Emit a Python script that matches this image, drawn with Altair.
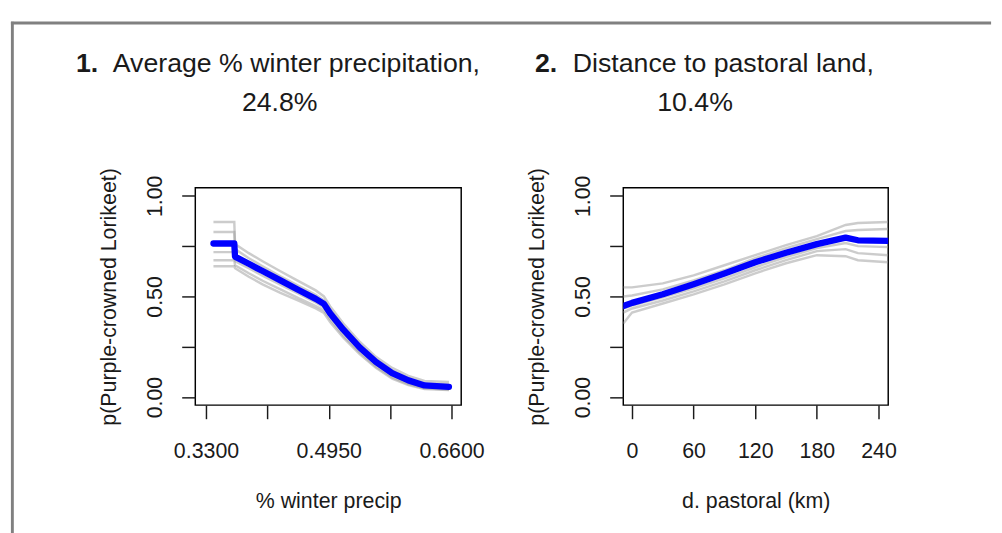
import altair as alt
import pandas as pd

FONT = "Liberation Sans"
INK = "#1a1a1a"

# ---------------- Panel 1: % winter precipitation ----------------
precip_num = "1."
precip_title = "Average % winter precipitation,"
precip_pct = "24.8%"
precip_xlabel = "% winter precip"
precip_x = [0.340, 0.368, 0.369, 0.3875, 0.406, 0.430, 0.455, 0.4775, 0.4885,
            0.497, 0.5146, 0.5365, 0.5583, 0.5802, 0.602, 0.6237, 0.6565]
precip_mean = [0.763, 0.763, 0.698, 0.662, 0.626, 0.580, 0.531, 0.488, 0.463,
               0.415, 0.335, 0.247, 0.175, 0.119, 0.083, 0.058, 0.051]
precip_reps = [
    [0.870, 0.870, 0.760, 0.715, 0.675, 0.625, 0.575, 0.530, 0.500, 0.450, 0.365, 0.275, 0.200, 0.145, 0.105, 0.080, 0.075],
    [0.820, 0.820, 0.735, 0.690, 0.650, 0.600, 0.552, 0.508, 0.480, 0.432, 0.350, 0.260, 0.187, 0.131, 0.093, 0.068, 0.063],
    [0.720, 0.720, 0.675, 0.640, 0.603, 0.558, 0.512, 0.470, 0.445, 0.400, 0.320, 0.234, 0.163, 0.108, 0.073, 0.050, 0.043],
    [0.680, 0.680, 0.655, 0.615, 0.578, 0.535, 0.490, 0.452, 0.430, 0.385, 0.305, 0.222, 0.152, 0.098, 0.065, 0.044, 0.038],
    [0.650, 0.650, 0.640, 0.598, 0.560, 0.518, 0.478, 0.440, 0.418, 0.372, 0.295, 0.213, 0.145, 0.092, 0.060, 0.040, 0.035],
]
precip_ticks = [0.33, 0.4125, 0.495, 0.5775, 0.66]
precip_tick_labels = ["0.3300", "", "0.4950", "", "0.6600"]
precip_domain = [0.3156, 0.673]

# ---------------- Panel 2: distance to pastoral land ----------------
past_num = "2."
past_title = "Distance to pastoral land,"
past_pct = "10.4%"
past_xlabel = "d. pastoral (km)"
past_x = [-8.5, 0, 30, 60, 90, 120, 150, 180, 208, 220, 249.5]
past_mean = [0.452, 0.468, 0.511, 0.561, 0.614, 0.670, 0.717, 0.760, 0.792, 0.779, 0.776]
past_reps = [
    [0.545, 0.545, 0.565, 0.605, 0.655, 0.705, 0.755, 0.800, 0.855, 0.865, 0.870],
    [0.500, 0.505, 0.535, 0.580, 0.630, 0.690, 0.740, 0.785, 0.825, 0.830, 0.835],
    [0.440, 0.455, 0.495, 0.540, 0.590, 0.645, 0.695, 0.740, 0.765, 0.750, 0.745],
    [0.420, 0.440, 0.480, 0.525, 0.575, 0.630, 0.680, 0.725, 0.735, 0.715, 0.705],
    [0.365, 0.420, 0.465, 0.510, 0.560, 0.615, 0.665, 0.705, 0.700, 0.680, 0.670],
]
past_ticks = [0, 60, 120, 180, 240]
past_tick_labels = ["0", "60", "120", "180", "240"]
past_domain = [-8.5, 249.5]

# ---------------- shared y ----------------
y_title = "p(Purple-crowned Lorikeet)"
y_ticks = [0, 0.25, 0.5, 0.75, 1.0]
y_tick_labels = ["0.00", "", "0.50", "", "1.00"]
y_domain = [-0.04, 1.04]

H = 224


def label_expr(ticks, labels):
    expr = "''"
    for t, l in reversed(list(zip(ticks, labels))):
        expr = f"(datum.value == {t} ? '{l}' : {expr})"
    return expr


one = pd.DataFrame({"a": [0]})


def text_mark(txt, x, y, bold=False, align="left"):
    return alt.Chart(one).mark_text(
        font=FONT, fontSize=27.5, fontWeight="bold" if bold else "normal",
        align=align, baseline="alphabetic", color=INK
    ).encode(x=alt.value(x), y=alt.value(y), text=alt.value(txt))


def panel(xs, mean, reps, domain, ticks, labels, xlabel, w,
          num, title, pct, num_x, title_x, pct_x, frame=False):
    grey_rows = [{"x": x, "y": y, "rep": i, "o": j}
                 for i, r in enumerate(reps) for j, (x, y) in enumerate(zip(xs, r))]
    mean_rows = [{"x": x, "y": y, "o": j} for j, (x, y) in enumerate(zip(xs, mean))]

    xenc = alt.X("x:Q",
                 scale=alt.Scale(domain=domain, nice=False, zero=False),
                 axis=alt.Axis(values=ticks, labelExpr=label_expr(ticks, labels),
                               title=xlabel, titleX=w / 2, titleY=98,
                               titleBaseline="middle", titleAlign="center",
                               labelBaseline="middle", labelPadding=33,
                               labelFlush=False, labelOverlap=False))
    yenc = alt.Y("y:Q",
                 scale=alt.Scale(domain=y_domain, nice=False, zero=False),
                 axis=alt.Axis(values=y_ticks, labelExpr=label_expr(y_ticks, y_tick_labels),
                               title=y_title, labelAngle=270, labelAlign="center",
                               labelBaseline="middle", labelPadding=28,
                               titleAngle=270, titleX=-89, titleY=H / 2,
                               titleBaseline="middle", titleAlign="center",
                               labelFlush=False, labelOverlap=False))

    grey = alt.Chart(pd.DataFrame(grey_rows)).mark_line(
        color="#999999", strokeWidth=2.5, opacity=0.5, clip=True
    ).encode(x=xenc, y=yenc, detail="rep:N", order="o:Q")
    blue = alt.Chart(pd.DataFrame(mean_rows)).mark_line(
        color="#0000ff", strokeWidth=6.5, clip=True, strokeCap="round", strokeJoin="round"
    ).encode(x="x:Q", y="y:Q", order="o:Q")

    layers = [grey, blue,
              text_mark(num, num_x, -119, bold=True),
              text_mark(title, title_x, -119),
              text_mark(pct, pct_x, -79, align="center")]
    if frame:
        layers.append(alt.Chart(one).mark_rule(color="#808080", strokeWidth=3).encode(
            x=alt.value(-188.5), y=alt.value(-171), y2=alt.value(360)))
        layers.append(alt.Chart(one).mark_rule(color="#808080", strokeWidth=3).encode(
            x=alt.value(-190), x2=alt.value(820), y=alt.value(-169.7)))
    return alt.layer(*layers).properties(width=w, height=H)


p1 = panel(precip_x, precip_mean, precip_reps, precip_domain, precip_ticks,
           precip_tick_labels, precip_xlabel, 274,
           precip_num, precip_title, precip_pct, -123, -85, 87, frame=True)
p2 = panel(past_x, past_mean, past_reps, past_domain, past_ticks,
           past_tick_labels, past_xlabel, 273,
           past_num, past_title, past_pct, -91, -52, 74)

chart = alt.hconcat(p1, p2, spacing=167, bounds="flush").properties(
    padding={"left": 0, "top": 3, "right": 0, "bottom": 0},
    background="white",
).configure_view(
    stroke="black", strokeWidth=1.5
).configure_axis(
    domain=False, grid=False, tickSize=14, tickWidth=1.5, tickColor=INK,
    labelFont=FONT, labelFontSize=22, labelColor=INK,
    titleFont=FONT, titleFontSize=22, titleFontWeight="normal", titleColor=INK,
)

chart.save("out.html", embed_options={"renderer": "svg", "actions": False})
